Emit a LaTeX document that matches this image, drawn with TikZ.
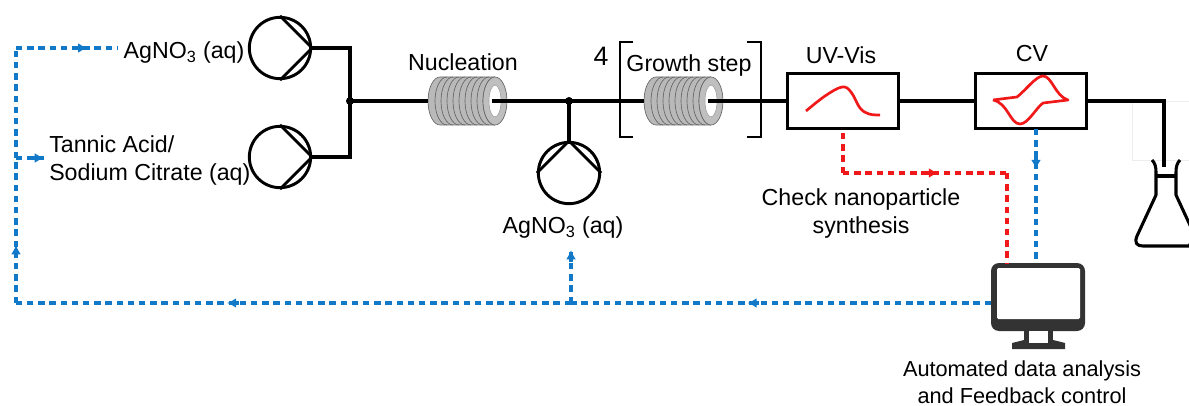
\documentclass[tikz,border=0pt]{standalone}
\usepackage{fontspec}
\setmainfont{Liberation Sans}
\usetikzlibrary{arrows.meta,decorations.markings}

\definecolor{fbblue}{HTML}{1279C9}
\definecolor{chkred}{HTML}{F01818}
\definecolor{monitor}{HTML}{333333}

\newcommand{\coil}[3]{
  \begin{scope}[shift={(#2,#3)}]
    \fill[gray!55] (-55,-24) -- (0,-24) arc[start angle=-90,end angle=90,x radius=12,y radius=24]
      -- (-55,24) arc[start angle=90,end angle=270,x radius=12,y radius=24];
    \draw[black!60,line width=0.5pt] (-55,-24) -- (0,-24) (-55,24) -- (0,24)
      (-55,-24) arc[start angle=-90,end angle=-270,x radius=12,y radius=24];
    \foreach \i in {0,...,8}
      \draw[black!60,line width=0.5pt] (-48+6*\i,-24) arc[start angle=-90,end angle=-270,x radius=12,y radius=24];
    \draw[black!60,line width=0.5pt,fill=gray!50] (0,0) ellipse[x radius=12,y radius=24];
    \draw[black!40,line width=0.4pt,fill=white] (0,0) ellipse[x radius=6,y radius=16];
    \coordinate (#1in) at (-67,0);
    \coordinate (#1out) at (-3,0);
  \end{scope}
}

\begin{document}
\begin{tikzpicture}[x=0.75pt,y=-0.75pt]
    \tikzstyle{pump}=[circle,draw,line width=2.2pt,minimum size=46pt,inner sep=0pt]
    \tikzstyle{cell}=[rectangle,draw,line width=2.4pt,fill=white,minimum width=83pt,minimum height=41pt,inner sep=0pt]
    \tikzstyle{tube}=[line width=2.3pt]
    \tikzstyle{dot}=[circle,fill,inner sep=0pt,minimum size=6pt]
    \tikzstyle{label}=[font=\fontsize{17.4}{21}\selectfont,inner sep=0pt,align=center]
    \tikzstyle{trace}=[chkred,line width=2pt,line join=round]
    \tikzstyle{feedback}=[fbblue,line width=2.3pt,dash pattern=on 4.8pt off 3.6pt]
    \tikzstyle{check}=[chkred,line width=2.3pt,dash pattern=on 4.8pt off 3.6pt]
    \tikzset{flowmark/.style={postaction={decorate},decoration={markings,
      mark=at position #1 with {\draw[solid,line width=2.3pt] (-9pt,0) -- (-3pt,0); \arrow{Latex[length=7pt,width=7.5pt]}}}}}

    \useasboundingbox (0,0) rectangle (1189,406);
    \clip (0,0) rectangle (1189,406);

    % faint frame beside the outlet
    \draw[black!7,line width=0.5pt] (1189,101) -- (1132,101) -- (1132,160) -- (1189,160);

    \node[pump] (pumpa) at (280,48) {};
    \node[pump] (pumpb) at (280,157) {};
    \node[pump] (pumpc) at (569,173) {};
    \draw[line width=2.2pt] (pumpa.north) -- (pumpa.east) -- (pumpa.south);
    \draw[line width=2.2pt] (pumpb.north) -- (pumpb.east) -- (pumpb.south);
    \draw[line width=2.2pt] (pumpc.west) -- (pumpc.north) -- (pumpc.east);

    \coil{nuc}{495}{101}
    \coil{grow}{711}{101}

    \node[dot] (mixa) at (350,101) {};
    \node[dot] (mixb) at (569,101) {};
    \node[cell] (uvvis) at (843,101) {};
    \node[cell] (cv) at (1031,101) {};

    \draw[tube] (pumpa.east) -| (mixa.center);
    \draw[tube] (pumpb.east) -| (mixa.center);
    \draw[tube] (mixa.center) -- (nucin);
    \draw[tube] (nucout) -- (mixb.center);
    \draw[tube] (mixb.center) -- (pumpc.north);
    \draw[tube] (mixb.center) -- (growin);
    \draw[tube] (growout) -- (uvvis.west);
    \draw[tube] (uvvis.east) -- (cv.west);

    % repeat brackets
    \draw[line width=1.5pt] (633,42) -- (620,42) -- (620,137) -- (633,137);
    \draw[line width=1.5pt] (747,42) -- (761,42) -- (761,137) -- (747,137);

    % flask
    \coordinate (flasktop) at (1164,167);
    \draw[tube] (cv.east) -| (flasktop);
    \draw[tube,line join=round] (1152,160) .. controls (1155,163) and (1156,167) .. (1156,172) -- (1156,195)
      -- (1137,236) .. controls (1134,243) and (1137,246) .. (1143,246) -- (1189,246) -- (1195,236) -- (1176,195)
      -- (1176,172) .. controls (1176,167) and (1177,163) .. (1180,160);
    \draw[tube] (1156,176) -- (1176,176);

    % traces
    \draw[trace] plot[smooth,tension=0.6] coordinates {(806,111) (825,96) (842,87) (851,92) (860,108) (869,114) (880,115)};
    \draw[trace] (993,100) -- (1017,97) .. controls (1026,90) and (1036,76) .. (1043,76)
      .. controls (1052,76) and (1055,96) .. (1068,100) -- (1043,103)
      .. controls (1036,108) and (1028,124) .. (1020,124)
      .. controls (1010,124) and (1008,103) .. (993,100);

    % monitor
    \fill[monitor,rounded corners=6pt] (991,263) rectangle (1085,331);
    \fill[white,rounded corners=1pt] (997,268) rectangle (1080,319);
    \fill[monitor] (1024,331) rectangle (1053,344);
    \fill[monitor] (1012,343) -- (1024,340) -- (1053,340) -- (1065,343) -- (1065,349) -- (1012,349) -- cycle;
    \fill[white] (1029,331) rectangle (1048,343);
    \coordinate (monred) at (1007,263);
    \coordinate (monblue) at (1036,263);
    \coordinate (monleft) at (991,303);

    % red check line
    \coordinate (redturna) at (843,173);
    \coordinate (redturnb) at (1007,173);
    \draw[check] (redturna-|uvvis.south) -- (uvvis.south);
    \draw[check,flowmark=0.58] (redturna) -- (redturnb);
    \draw[check] (redturnb) -- (monred);

    % blue feedback lines
    \coordinate (cvout) at (1036,129);
    \coordinate (fbbranch) at (571,303);
    \coordinate (fbcorner) at (16,303);
    \coordinate (fbmid) at (16,158);
    \coordinate (fbtop) at (16,48);
    \coordinate (fbend) at (118,48);
    \coordinate (tannicin) at (44,158);
    \coordinate (agin) at (571,250);
    \draw[feedback,flowmark=0.30] (cvout) -- (monblue);
    \draw[feedback,flowmark=0.58] (monleft) -- (fbbranch);
    \draw[feedback,flowmark=0.62] (fbbranch) -- (fbcorner);
    \draw[feedback,flowmark=0.40] (fbcorner) -- (fbmid);
    \draw[feedback] (fbmid) -- (fbtop);
    \draw[feedback,flowmark=0.70] (fbtop) -- (fbend);
    \draw[feedback,flowmark=1] (fbmid) -- (tannicin);
    \draw[feedback,flowmark=1] (fbbranch) -- (agin);

    \node[label] (agtop) at (184,53) {AgNO\textsubscript{3} (aq)};
    \node[label,align=left,anchor=west] (tannic) at (49,161) {Tannic Acid/\\Sodium Citrate (aq)};
    \node[label] (agbot) at (563,228) {AgNO\textsubscript{3} (aq)};
    \node[label] (nuclab) at (463,62) {Nucleation};
    \node[label] (growlab) at (689,66) {Growth step};
    \node[label,font=\fontsize{20}{24}\selectfont] (times) at (601,56) {4};
    \node[label] (uvlab) at (841,55) {UV-Vis};
    \node[label] (cvlab) at (1032,54) {CV};
    \node[label] (chklab) at (861,214) {Check nanoparticle\\synthesis};
    \node[label,font=\fontsize{16.3}{20.5}\selectfont] (monlab) at (1022,382) {Automated data analysis\\and Feedback control};
\end{tikzpicture}
\end{document}
